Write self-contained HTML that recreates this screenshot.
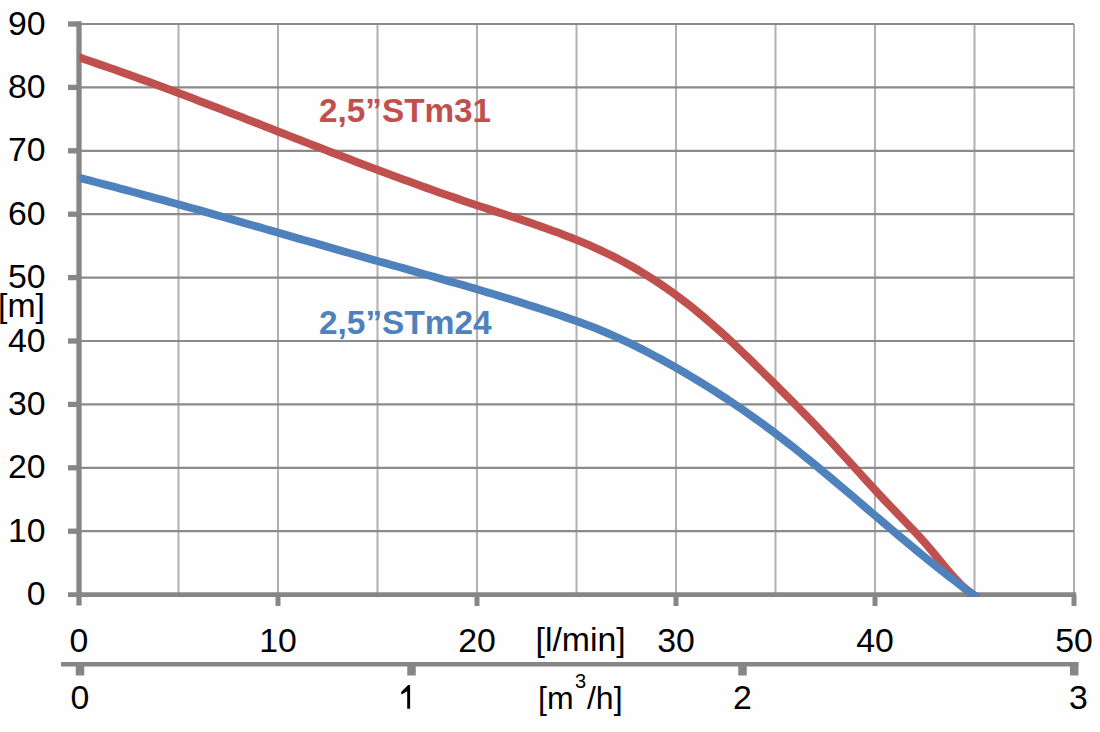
<!DOCTYPE html><html><head><meta charset="utf-8"><style>html,body{margin:0;padding:0;background:#fff;}svg{display:block;}text{font-family:"Liberation Sans",sans-serif;}</style></head><body>
<svg width="1100" height="732" viewBox="0 0 1100 732">
<rect width="1100" height="732" fill="#fefefe"/>
<g stroke="#b0b0b0" stroke-width="2"><line x1="178.5" y1="24.0" x2="178.5" y2="594.6"/><line x1="278.0" y1="24.0" x2="278.0" y2="594.6"/><line x1="377.5" y1="24.0" x2="377.5" y2="594.6"/><line x1="477.0" y1="24.0" x2="477.0" y2="594.6"/><line x1="576.5" y1="24.0" x2="576.5" y2="594.6"/><line x1="676.0" y1="24.0" x2="676.0" y2="594.6"/><line x1="775.5" y1="24.0" x2="775.5" y2="594.6"/><line x1="875.0" y1="24.0" x2="875.0" y2="594.6"/><line x1="974.5" y1="24.0" x2="974.5" y2="594.6"/><line x1="1074.0" y1="24.0" x2="1074.0" y2="594.6"/></g>
<g stroke="#8a8a8a" stroke-width="2.2"><line x1="79.0" y1="531.2" x2="1074.0" y2="531.2"/><line x1="79.0" y1="467.8" x2="1074.0" y2="467.8"/><line x1="79.0" y1="404.4" x2="1074.0" y2="404.4"/><line x1="79.0" y1="341.0" x2="1074.0" y2="341.0"/><line x1="79.0" y1="277.6" x2="1074.0" y2="277.6"/><line x1="79.0" y1="214.2" x2="1074.0" y2="214.2"/><line x1="79.0" y1="150.8" x2="1074.0" y2="150.8"/><line x1="79.0" y1="87.4" x2="1074.0" y2="87.4"/><line x1="79.0" y1="24.0" x2="1074.0" y2="24.0"/></g>
<g stroke="#868686"><line x1="79.0" y1="21.3" x2="79.0" y2="605.5" stroke-width="5.3"/><line x1="68" y1="531.2" x2="79.0" y2="531.2" stroke-width="5.3"/><line x1="68" y1="467.8" x2="79.0" y2="467.8" stroke-width="5.3"/><line x1="68" y1="404.4" x2="79.0" y2="404.4" stroke-width="5.3"/><line x1="68" y1="341.0" x2="79.0" y2="341.0" stroke-width="5.3"/><line x1="68" y1="277.6" x2="79.0" y2="277.6" stroke-width="5.3"/><line x1="68" y1="214.2" x2="79.0" y2="214.2" stroke-width="5.3"/><line x1="68" y1="150.8" x2="79.0" y2="150.8" stroke-width="5.3"/><line x1="68" y1="87.4" x2="79.0" y2="87.4" stroke-width="5.3"/><line x1="68" y1="24.0" x2="79.0" y2="24.0" stroke-width="5.3"/><line x1="68" y1="594.6" x2="1076" y2="594.6" stroke-width="4.8"/><line x1="278.0" y1="594.6" x2="278.0" y2="606" stroke-width="5"/><line x1="477.0" y1="594.6" x2="477.0" y2="606" stroke-width="5"/><line x1="676.0" y1="594.6" x2="676.0" y2="606" stroke-width="5"/><line x1="875.0" y1="594.6" x2="875.0" y2="606" stroke-width="5"/><line x1="1074.0" y1="594.6" x2="1074.0" y2="606" stroke-width="5"/><line x1="61" y1="664.3" x2="1078.3" y2="664.3" stroke-width="4.6"/><line x1="80.0" y1="662" x2="80.0" y2="675.5" stroke-width="8.5"/><line x1="411.5" y1="662" x2="411.5" y2="675.5" stroke-width="8.5"/><line x1="742.5" y1="662" x2="742.5" y2="675.5" stroke-width="8.5"/><line x1="1074.2" y1="662" x2="1074.2" y2="675.5" stroke-width="8.5"/></g>
<defs><clipPath id="pa"><rect x="79.4" y="0" width="1000" height="596.6"/></clipPath></defs>
<g clip-path="url(#pa)">
<path d="M75.2,56.1 L79.2,57.4 L85.2,59.5 L91.2,61.5 L97.2,63.6 L103.2,65.6 L109.2,67.7 L115.2,69.8 L121.2,72.0 L127.2,74.1 L133.2,76.3 L139.2,78.5 L145.2,80.6 L151.2,82.8 L157.2,85.1 L163.2,87.3 L169.2,89.5 L175.2,91.8 L181.2,94.1 L187.2,96.3 L193.2,98.6 L199.2,100.9 L205.2,103.2 L211.2,105.5 L217.2,107.8 L223.2,110.1 L229.2,112.5 L235.2,114.8 L241.2,117.1 L247.2,119.5 L253.2,121.8 L259.2,124.1 L265.2,126.5 L271.2,128.8 L277.2,131.2 L283.2,133.5 L289.2,135.9 L295.2,138.2 L301.2,140.5 L307.2,142.9 L313.2,145.2 L319.2,147.5 L325.2,149.9 L331.2,152.2 L337.2,154.5 L343.2,156.8 L349.2,159.1 L355.2,161.4 L361.2,163.7 L367.2,166.0 L373.2,168.2 L379.2,170.5 L385.2,172.7 L391.2,175.0 L397.2,177.2 L403.2,179.4 L409.2,181.6 L415.2,183.8 L421.2,186.0 L427.2,188.1 L433.2,190.2 L439.2,192.4 L445.2,194.5 L451.2,196.5 L457.2,198.6 L463.2,200.7 L469.2,202.7 L475.2,204.7 L481.2,206.7 L487.2,208.6 L493.2,210.6 L499.2,212.6 L505.2,214.5 L511.2,216.5 L517.2,218.4 L523.2,220.4 L529.2,222.4 L535.2,224.5 L541.2,226.6 L547.2,228.7 L553.2,230.9 L559.2,233.1 L565.2,235.4 L571.2,237.7 L577.2,240.1 L583.2,242.6 L589.2,245.2 L595.2,247.9 L601.2,250.6 L607.2,253.5 L613.2,256.4 L619.2,259.5 L625.2,262.7 L631.2,266.0 L637.2,269.5 L643.2,273.1 L649.2,276.8 L655.2,280.6 L661.2,284.6 L667.2,288.8 L673.2,293.1 L679.2,297.5 L685.2,302.0 L691.2,306.7 L697.2,311.6 L703.2,316.6 L709.2,321.7 L715.2,326.9 L721.2,332.3 L727.2,337.8 L733.2,343.4 L739.2,349.1 L745.2,354.8 L751.2,360.7 L757.2,366.6 L763.2,372.5 L769.2,378.4 L775.2,384.4 L781.2,390.4 L787.2,396.4 L793.2,402.4 L799.2,408.5 L805.2,414.6 L811.2,420.8 L817.2,427.1 L823.2,433.4 L829.2,439.8 L835.2,446.3 L841.2,452.9 L847.2,459.4 L853.2,466.0 L859.2,472.6 L865.2,479.2 L871.2,485.7 L877.2,492.2 L883.2,498.7 L889.2,505.0 L895.2,511.3 L901.2,517.5 L907.2,523.7 L913.2,530.1 L919.2,536.5 L925.2,543.2 L931.2,550.2 L937.2,557.4 L943.2,564.7 L949.2,571.8 L955.2,578.6 L961.2,584.9 L967.2,590.3 L973.0,594.7 L978.0,597.6" fill="none" stroke="#c0504d" stroke-width="8" stroke-linejoin="round"/>
<path d="M75.2,176.8 L79.2,177.8 L85.2,179.4 L91.2,180.9 L97.2,182.5 L103.2,184.1 L109.2,185.6 L115.2,187.2 L121.2,188.8 L127.2,190.4 L133.2,192.0 L139.2,193.6 L145.2,195.3 L151.2,196.9 L157.2,198.6 L163.2,200.2 L169.2,201.9 L175.2,203.5 L181.2,205.2 L187.2,206.9 L193.2,208.5 L199.2,210.2 L205.2,211.9 L211.2,213.6 L217.2,215.3 L223.2,217.0 L229.2,218.7 L235.2,220.4 L241.2,222.1 L247.2,223.8 L253.2,225.5 L259.2,227.2 L265.2,229.0 L271.2,230.7 L277.2,232.4 L283.2,234.1 L289.2,235.8 L295.2,237.6 L301.2,239.3 L307.2,241.0 L313.2,242.7 L319.2,244.4 L325.2,246.2 L331.2,247.9 L337.2,249.6 L343.2,251.3 L349.2,253.0 L355.2,254.7 L361.2,256.4 L367.2,258.1 L373.2,259.8 L379.2,261.5 L385.2,263.2 L391.2,264.9 L397.2,266.5 L403.2,268.2 L409.2,269.9 L415.2,271.6 L421.2,273.3 L427.2,275.0 L433.2,276.7 L439.2,278.4 L445.2,280.1 L451.2,281.8 L457.2,283.5 L463.2,285.2 L469.2,287.0 L475.2,288.7 L481.2,290.5 L487.2,292.3 L493.2,294.0 L499.2,295.8 L505.2,297.7 L511.2,299.5 L517.2,301.4 L523.2,303.3 L529.2,305.2 L535.2,307.1 L541.2,309.0 L547.2,311.0 L553.2,313.0 L559.2,315.0 L565.2,317.1 L571.2,319.2 L577.2,321.3 L583.2,323.5 L589.2,325.8 L595.2,328.1 L601.2,330.5 L607.2,333.0 L613.2,335.6 L619.2,338.3 L625.2,341.1 L631.2,343.9 L637.2,346.9 L643.2,349.9 L649.2,353.0 L655.2,356.2 L661.2,359.4 L667.2,362.7 L673.2,366.1 L679.2,369.5 L685.2,373.0 L691.2,376.6 L697.2,380.2 L703.2,383.9 L709.2,387.6 L715.2,391.4 L721.2,395.3 L727.2,399.2 L733.2,403.3 L739.2,407.3 L745.2,411.5 L751.2,415.7 L757.2,420.0 L763.2,424.3 L769.2,428.8 L775.2,433.3 L781.2,437.9 L787.2,442.5 L793.2,447.2 L799.2,452.0 L805.2,456.8 L811.2,461.7 L817.2,466.6 L823.2,471.6 L829.2,476.6 L835.2,481.6 L841.2,486.7 L847.2,491.8 L853.2,496.8 L859.2,502.0 L865.2,507.1 L871.2,512.2 L877.2,517.3 L883.2,522.4 L889.2,527.5 L895.2,532.6 L901.2,537.6 L907.2,542.6 L913.2,547.6 L919.2,552.6 L925.2,557.5 L931.2,562.3 L937.2,567.1 L943.2,571.9 L949.2,576.6 L955.2,581.2 L961.2,585.7 L967.2,590.2 L973.0,594.5 L978.0,598.0" fill="none" stroke="#4f81bd" stroke-width="8" stroke-linejoin="round"/>
</g>
<g font-size="33.8" fill="#000"><text x="45.5" y="605.2" text-anchor="end">0</text><text x="45.5" y="541.8" text-anchor="end">10</text><text x="45.5" y="478.4" text-anchor="end">20</text><text x="45.5" y="415.0" text-anchor="end">30</text><text x="45.5" y="351.6" text-anchor="end">40</text><text x="45.5" y="288.2" text-anchor="end">50</text><text x="45.5" y="224.8" text-anchor="end">60</text><text x="45.5" y="161.4" text-anchor="end">70</text><text x="45.5" y="98.0" text-anchor="end">80</text><text x="45.5" y="34.6" text-anchor="end">90</text><text x="79.0" y="652.3" text-anchor="middle">0</text><text x="278.0" y="652.3" text-anchor="middle">10</text><text x="477.0" y="652.3" text-anchor="middle">20</text><text x="676.0" y="652.3" text-anchor="middle">30</text><text x="875.0" y="652.3" text-anchor="middle">40</text><text x="1074.0" y="652.3" text-anchor="middle">50</text><text x="80.0" y="709.2" text-anchor="middle">0</text><text x="742.5" y="709.2" text-anchor="middle">2</text><text x="1078.5" y="709.2" text-anchor="middle">3</text><text x="-2" y="317.1">[m]</text><text x="535.5" y="650.5">[l/min]</text></g>
<path d="M407.2,708.8 L410.1,708.8 L410.1,685 L408.1,685 L401.1,692 L401.6,694.5 L407.2,691.2 Z" fill="#000"/>
<text x="538" y="708.5" font-size="32">[m<tspan font-size="20" dx="1.5" dy="-21">3</tspan><tspan dx="0.8" dy="21">/h]</tspan></text>
<text x="319" y="121.5" font-size="33.3" font-weight="bold" fill="#c0504d">2,5”STm31</text>
<text x="319" y="333.5" font-size="33.4" font-weight="bold" fill="#4f81bd">2,5”STm24</text>
</svg></body></html>
